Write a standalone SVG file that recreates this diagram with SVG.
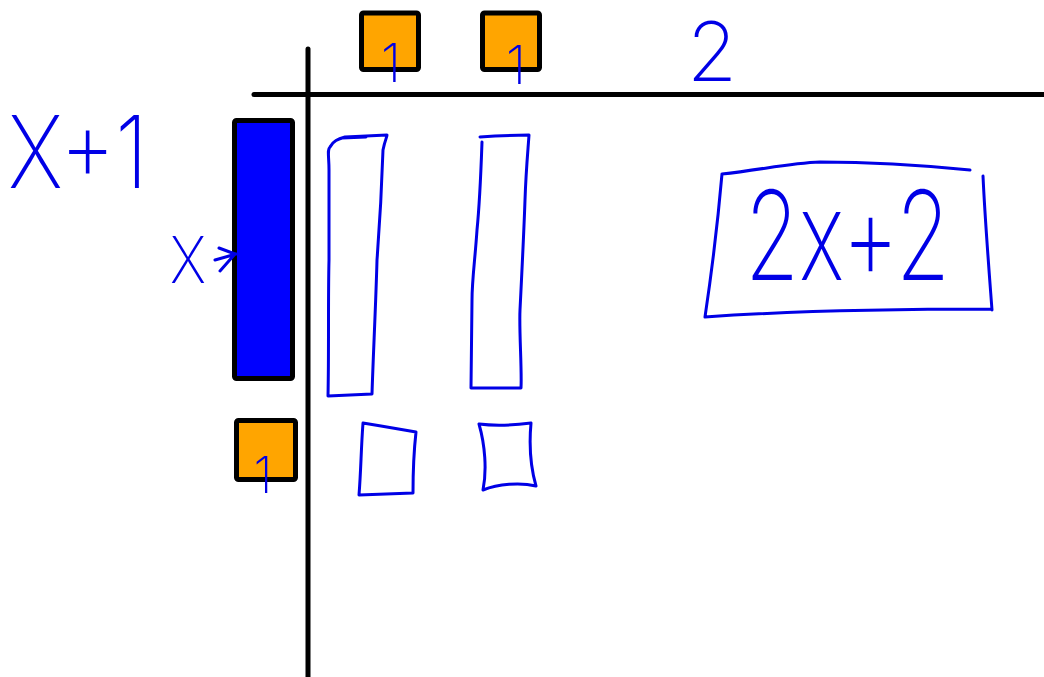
<svg xmlns="http://www.w3.org/2000/svg" width="1044" height="677" viewBox="0 0 1044 677">
  <style>
    .axis { stroke: #000; stroke-width: 5; stroke-linecap: round; fill: none; }
    .tile { stroke: #000; stroke-width: 5; stroke-linejoin: round; }
    .ink { stroke: #0000e6; stroke-width: 3; fill: none; stroke-linecap: round; stroke-linejoin: round; }
    .hand { fill: #0000e6; font-family: Inter, "Liberation Sans", sans-serif; font-weight: 200; }
  </style>
  <rect width="1044" height="677" fill="#fff"/>

  <g id="axes">
    <line class="axis" x1="308" y1="49" x2="308" y2="677"/>
    <line class="axis" x1="254" y1="94.5" x2="1044" y2="94.5"/>
  </g>

  <g id="top-tile-1">
    <rect class="tile" x="361.5" y="13" width="57" height="56.5" rx="2" fill="#ffa500"/>
    <text class="hand" x="391" y="82" font-size="54" text-anchor="middle">1</text>
  </g>
  <g id="top-tile-2">
    <rect class="tile" x="482.5" y="13" width="57" height="56.5" rx="2" fill="#ffa500"/>
    <text class="hand" x="516" y="84" font-size="54" text-anchor="middle">1</text>
  </g>
  <g id="top-label-2">
    <text class="hand" x="712" y="81" font-size="82" text-anchor="middle">2</text>
  </g>

  <g id="x-tile">
    <rect class="tile" x="234.5" y="120.5" width="58" height="258" rx="2" fill="#0000ff"/>
  </g>
  <g id="unit-tile-left">
    <rect class="tile" x="236.5" y="420.5" width="59" height="59" rx="2" fill="#ffa500"/>
    <text class="hand" x="263" y="493" font-size="50" text-anchor="middle">1</text>
  </g>

  <g id="label-x-plus-1">
    <text class="hand" x="8" y="188" font-size="100" textLength="140" lengthAdjust="spacingAndGlyphs">X+1</text>
  </g>
  <g id="label-x">
    <text class="hand" x="170" y="283" font-size="64" textLength="36" lengthAdjust="spacingAndGlyphs">X</text>
  </g>

  <g id="connectors">
    <path class="ink" d="M215,260 L236,254 M219,248 L235,254 L220,271"/>
  </g>

  <g id="result-x-1">
    <path class="ink" d="M342,138 L366,137 M330,147 C327,150 329,156 329,170 L329,260 C328,300 329,350 328,396 L372,394 C373,360 376,300 377,260 C380,220 382,180 383,150 C385,140 387,137 387,135 L345,137 C338,139 333,141 330,147 Z"/>
  </g>
  <g id="result-x-2">
    <path class="ink" d="M482,142 C481,170 480,200 477,230 C475,260 472,280 472,300 L471,388 L521,388 C522,370 519,330 520,310 C522,270 524,230 525,200 C526,170 528,150 529,135 L495,136 L480,137"/>
  </g>
  <g id="result-unit-1">
    <path class="ink" d="M363,423 L381,426 L416,432 C414,450 413,470 413,493 L359,495 C361,470 361,450 363,423 Z"/>
  </g>
  <g id="result-unit-2">
    <path class="ink" d="M479,424 C495,426 515,425 531,423 C529,445 530,465 536,486 C520,482 498,484 483,490 C487,470 485,445 479,424 Z"/>
  </g>

  <g id="answer">
    <path class="ink" d="M722,174 C760,170 790,163 820,162 C870,162 920,165 970,170 M983,176 C985,220 989,270 992,310 M705,317 C790,311 900,309 992,309 M722,174 C718,220 712,270 705,317"/>
    <text class="hand" x="745" y="280" font-size="124" textLength="205" lengthAdjust="spacingAndGlyphs">2x+2</text>
  </g>
</svg>
